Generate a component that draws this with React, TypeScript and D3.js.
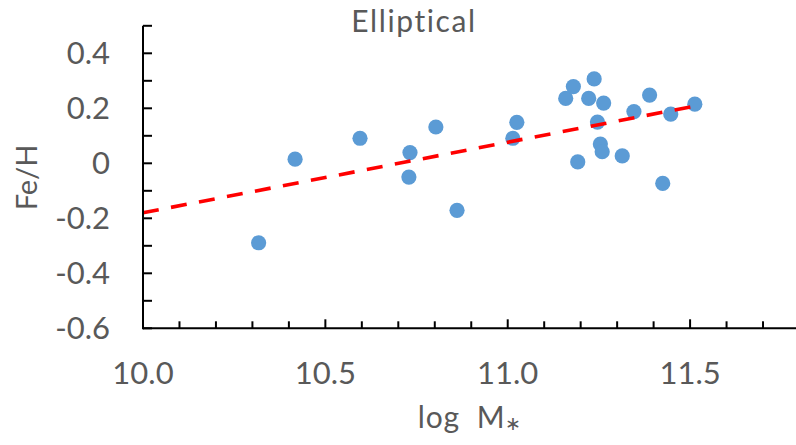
import React from 'react'
import * as d3 from 'd3'

// log M* vs Fe/H
const logMass = [10.317, 10.417, 10.595, 10.732, 10.729, 10.803, 10.861, 11.014, 11.025, 11.159, 11.18, 11.222,
    11.237, 11.192, 11.246, 11.263, 11.254, 11.259, 11.314, 11.346, 11.389, 11.425, 11.447, 11.513]
const feH = [-0.289, 0.015, 0.091, 0.039, -0.05, 0.132, -0.171, 0.091, 0.149, 0.236, 0.279, 0.236,
    0.307, 0.005, 0.15, 0.219, 0.07, 0.042, 0.027, 0.188, 0.248, -0.073, 0.179, 0.215]

// linear trendline ends
const trendX = [10.0, 11.52]
const trendY = [-0.18, 0.21]

const xTickLabels = [10.0, 10.5, 11.0, 11.5]
const yTickLabels = [-0.6, -0.4, -0.2, 0, 0.2, 0.4]

const W = 796
const H = 445
const FONT = 'Lato, "Open Sans", sans-serif'
const GREY = '#595959'

export default function App() {
    const x = d3.scaleLinear().domain([10, 11.8]).range([143, 799.5])
    const y = d3.scaleLinear().domain([-0.6, 0.5]).range([328.3, 25.8])

    const xMinor = d3.range(0, 19).map(i => 10 + i * 0.1)
    const yMinor = d3.range(0, 12).map(i => -0.6 + i * 0.1)

    const line = d3.line<number>()
        .x((d, i) => x(trendX[i]))
        .y(d => y(d))

    const fmtY = (v: number) => (Math.abs(v) < 1e-9 ? '0' : d3.format('.1f')(v).replace('−', '-'))

    return (
        <svg width={W} height={H} style={{ position: 'absolute', left: 0, top: 0, background: '#fff' }}>
            <text x={414} y={32} textAnchor="middle" fontFamily={FONT} fontSize={30} letterSpacing={1.6} fill={GREY}>Elliptical</text>

            {/* points */}
            {logMass.map((m, i) => (
                <circle key={i} cx={x(m)} cy={y(feH[i])} r={7.6} fill="#5B9BD5" />
            ))}

            {/* trendline */}
            <path d={line(trendY) || ''} fill="none" stroke="#FF0000" strokeWidth={3.6} strokeDasharray="16 12.5" />

            {/* axes */}
            <line x1={x(10)} x2={W} y1={y(-0.6)} y2={y(-0.6)} stroke="#000" strokeWidth={2} />
            <line x1={x(10)} x2={x(10)} y1={y(-0.6) + 1} y2={y(0.5)} stroke="#000" strokeWidth={2} />

            {xMinor.map((v, i) => (
                <line key={'xt' + i} x1={x(v)} x2={x(v)} y1={y(-0.6)} y2={y(-0.6) - (i % 5 === 0 ? 9 : 7)}
                    stroke="#000" strokeWidth={2} />
            ))}
            {yMinor.map((v, i) => (
                <line key={'yt' + i} x1={x(10)} x2={x(10) + 9} y1={y(v)} y2={y(v)} stroke="#000" strokeWidth={2} />
            ))}

            {xTickLabels.map(v => (
                <text key={'xl' + v} x={x(v)} y={384} textAnchor="middle" fontFamily={FONT} fontSize={31} fill={GREY}>
                    {v.toFixed(1)}
                </text>
            ))}
            {yTickLabels.map(v => (
                <text key={'yl' + v} x={110} y={y(v) + 11} textAnchor="end" fontFamily={FONT} fontSize={31} fill={GREY}>
                    {fmtY(v)}
                </text>
            ))}

            {/* axis titles */}
            <text transform={`translate(37, 177.5) rotate(-90)`} textAnchor="middle" fontFamily={FONT} fontSize={29} fill={GREY}>
                Fe/H
            </text>
            <text x={470} y={428} textAnchor="middle" fontFamily={FONT} fontSize={30} letterSpacing={0.8} fill={GREY}>
                log{'\u00a0\u00a0'}M<tspan fontSize={19} dy={2}>∗</tspan>
            </text>
        </svg>
    )
}
